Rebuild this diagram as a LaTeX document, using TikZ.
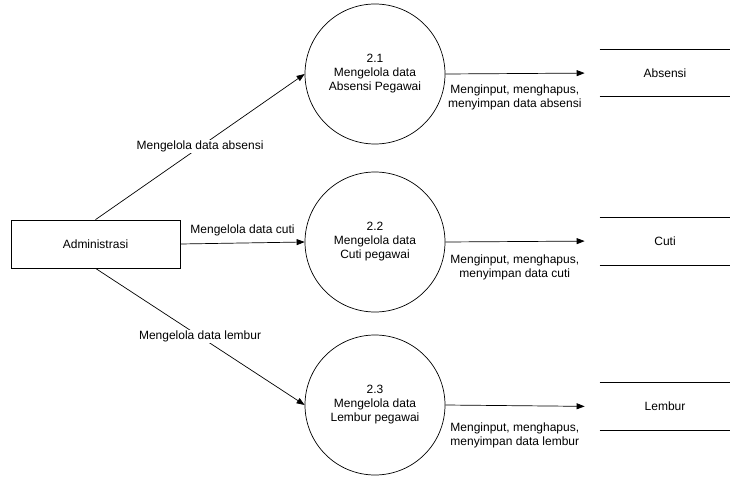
\documentclass[tikz,border=0pt]{standalone}
\usepackage{fontspec}
\setmainfont{Liberation Sans}
\usetikzlibrary{positioning,arrows.meta}
\tikzset{
  proc/.style={draw,circle,minimum size=140pt,inner sep=0pt,align=center},
  ent/.style={draw,rectangle,minimum width=169pt,minimum height=48pt},
  store/.style={minimum width=130pt,minimum height=47pt},
  flow/.style={-{Triangle[length=8pt,width=6pt]}},
  lbl/.style={fill=white,inner sep=1pt}
}

\begin{document}
\begin{tikzpicture}[x=1pt,y=-1pt,font=\fontsize{12}{14}\selectfont,line width=0.7pt]
    \useasboundingbox (0,0) rectangle (730,476);
    % entity and processes
    \node[ent] (adm) at (95.5,244) {Administrasi};
    \node[proc] (p1) at (375,74) {2.1\\Mengelola data\\Absensi Pegawai};
    \node[proc] (p2) at (375,242) {2.2\\Mengelola data\\Cuti pegawai};
    \node[proc] (p3) at (375,405) {2.3\\Mengelola data\\Lembur pegawai};
    % data stores
    \node[store] (s1) at (665,73) {Absensi};
    \node[store] (s2) at (665,241) {Cuti};
    \node[store] (s3) at (665,406.5) {Lembur};
    \foreach \s in {s1,s2,s3}{\draw (\s.north west)--(\s.north east) (\s.south west)--(\s.south east);}
    % flows
    \draw[flow] (adm.north) -- (p1.west) node[midway,lbl]{Mengelola data absensi};
    \draw[flow] (adm.east) -- (p2.west) node[midway,above=3pt]{Mengelola data cuti};
    \draw[flow] (adm.south) -- (p3.west) node[midway,lbl]{Mengelola data lembur};
    \draw[flow,shorten >=15pt] (p1.east) -- (s1.west) node[pos=0.45,below=8pt,align=center]{Menginput, menghapus,\\menyimpan data absensi};
    \draw[flow,shorten >=15pt] (p2.east) -- (s2.west) node[pos=0.45,below=10pt,align=center]{Menginput, menghapus,\\menyimpan data cuti};
    \draw[flow,shorten >=15pt] (p3.east) -- (s3.west) node[pos=0.45,below=13pt,align=center]{Menginput, menghapus,\\menyimpan data lembur};
  \end{tikzpicture}
\end{document}
